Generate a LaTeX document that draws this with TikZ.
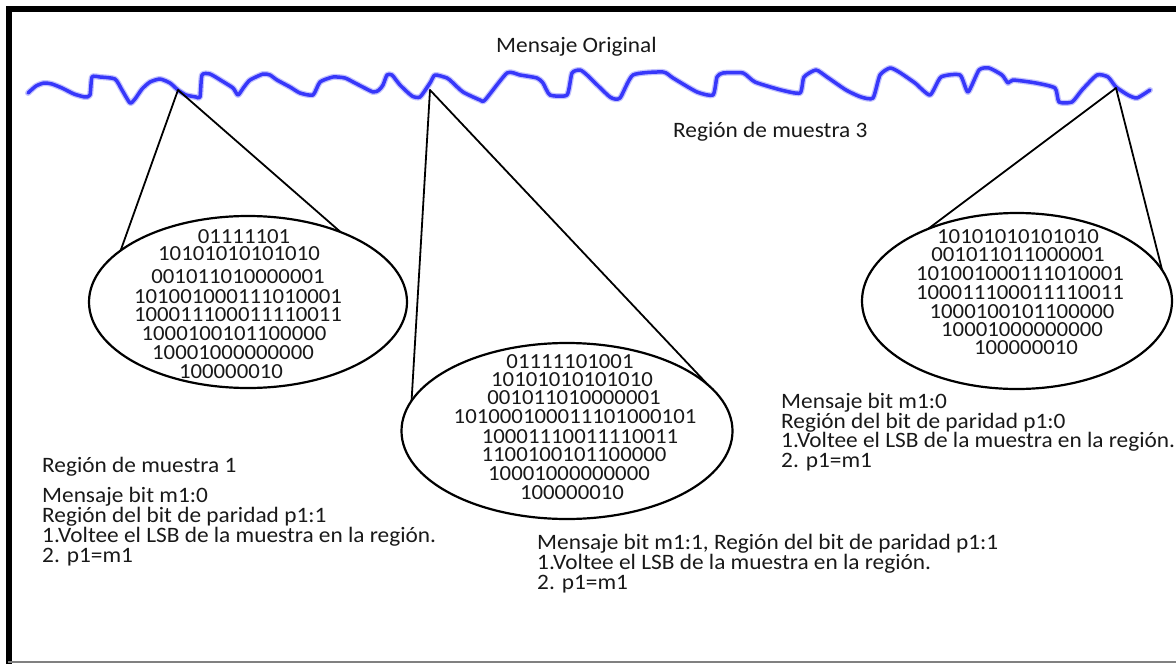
\documentclass[tikz,border=0pt]{standalone}
\usepackage{fontspec}
\setmainfont{Carlito}[FakeStretch=1.06]
\usetikzlibrary{shapes.geometric}
\definecolor{wavecol}{RGB}{55,55,250}
\definecolor{inkcol}{RGB}{25,25,25}
\newcommand\txtfont{\fontsize{22}{20}\selectfont}
\newcommand\bitfont{\fontsize{21.5}{19}\selectfont}
\begin{document}
\begin{tikzpicture}[x=1pt,y=-1pt,
  lbl/.style={anchor=base west, inner sep=0pt, font=\txtfont, text=inkcol},
  bits/.style={anchor=center, inner sep=0pt, font=\bitfont, text=inkcol},
  bubble/.style={draw, ellipse, line width=2.2pt, inner sep=0pt, outer sep=0pt},
  callout/.style={line width=1.8pt, line cap=round},
  wavehalo/.style={line width=6pt, color=wavecol!30, line join=round, line cap=round},
  wavecore/.style={line width=3.5pt, color=wavecol, line join=round, line cap=round}]
\useasboundingbox (0,0) rectangle (1176,664);
\fill[white] (0,0) rectangle (1176,664);
% frame
\draw[line width=6pt, line join=miter] (8.5,664) -- (8.5,8.5) -- (1176,8.5);
\draw[gray, line width=1.5pt] (8,662) -- (1176,662);
% wave
\def\wavepts{(28,93) (36,86) (44,83) (52,84) (62,88) (74,94) (85,97) (90,95) (92,77) (100,77) (115,79) (122,90) (130,103) (135,99) (142,89) (150,82) (160,79) (170,83) (178,90) (186,95) (196,97) (200,97) (202,75) (210,74) (222,81) (233,88) (238,95) (244,87) (250,80) (263,74) (270,75) (277,80) (290,87) (300,93) (313,95) (320,82) (333,77) (345,78) (355,83) (373,92) (379,90) (383,85) (387,75) (392,75) (400,85) (412,96) (420,97) (430,83) (435,75) (447,78) (452,82) (463,92) (480,100) (485,100) (507,73) (520,75) (537,78) (543,83) (550,95) (567,95) (572,73) (580,70) (587,75) (610,97) (620,98) (633,75) (663,72) (673,78) (697,92) (713,95) (717,77) (723,73) (743,73) (755,82) (781,90) (800,93) (804,77) (816,70) (827,77) (846,90) (861,97) (873,98) (880,75) (890,68) (899,72) (915,83) (930,95) (941,77) (960,75) (968,92) (979,70) (989,68) (1002,75) (1008,83) (1013,80) (1036,83) (1055,88) (1059,102) (1072,102) (1082,90) (1097,75) (1108,77) (1116,87) (1128,95) (1137,98) (1150,90)}
\draw[wavehalo] plot[smooth, tension=0.35] coordinates \wavepts;
\draw[wavecore] plot[smooth, tension=0.35] coordinates \wavepts;
% apexes of callouts
\coordinate (apex1) at (178,90);
\coordinate (apex2) at (430,90);
\coordinate (apex3) at (1116,88);
% bubbles
\node[bubble, minimum width=318pt, minimum height=172pt] (e1) at (248,302) {};
\node[bubble, minimum width=331pt, minimum height=176pt] (e2) at (567,431) {};
\node[bubble, minimum width=310pt, minimum height=176pt] (e3) at (1017,301) {};
% callout lines
\draw[callout] (apex1) -- (e1.158.4);
\draw[callout] (apex1) -- (e1.37.8);
\draw[callout] (apex2) -- (e2.169.2);
\draw[callout] (apex2) -- (e2.18.8);
\draw[callout] (apex3) -- (e3.141.6);
\draw[callout] (apex3) -- (e3.12.7);
% bits in left bubble
\node[bits] (l1) at (244,237) {01111101};
\node[bits] (l2) at (239,254) {10101010101010};
\node[bits] (l3) at (238,277) {001011010000001};
\node[bits] (l4) at (238,297) {101001000111010001};
\node[bits] (l5) at (238,315) {100011100011110011};
\node[bits] (l6) at (234,334) {1000100101100000};
\node[bits] (l7) at (233,353) {10001000000000};
\node[bits] (l8) at (231,372) {100000010};
% bits in middle bubble
\node[bits] (m1) at (570,362) {01111101001};
\node[bits] (m2) at (572,380) {10101010101010};
\node[bits] (m3) at (574,398) {001011010000001};
\node[bits] (m4) at (575,417) {101000100011101000101};
\node[bits] (m5) at (580,437) {10001110011110011};
\node[bits] (m6) at (574,455) {1100100101100000};
\node[bits] (m7) at (569,474) {10001000000000};
\node[bits] (m8) at (572,493) {100000010};
% bits in right bubble
\node[bits] (r1) at (1018,237) {10101010101010};
\node[bits] (r2) at (1018,255) {001011011000001};
\node[bits] (r3) at (1020,274) {101001000111010001};
\node[bits] (r4) at (1020,293) {100011100011110011};
\node[bits] (r5) at (1022,312) {1000100101100000};
\node[bits] (r6) at (1022,330) {10001000000000};
\node[bits] (r7) at (1026,348) {100000010};
% labels
\node[lbl] (title) at (496,52) {Mensaje Original};
\node[lbl] (reg3) at (673,137) {Región de muestra 3};
\node[lbl] (reg1) at (42,472) {Región de muestra 1};
\node[lbl] (a1) at (42,502) {Mensaje bit m1:0};
\node[lbl] (a2) at (42,522) {Región del bit de paridad p1:1};
\node[lbl] (a3) at (42,542) {1.Voltee el LSB de la muestra en la región.};
\node[lbl] (a4) at (42,562) {2. p1=m1};
\node[lbl] (b1) at (537,549) {Mensaje bit m1:1, Región del bit de paridad p1:1};
\node[lbl] (b2) at (537,569) {1.Voltee el LSB de la muestra en la región.};
\node[lbl] (b3) at (537,589) {2. p1=m1};
\node[lbl] (c1) at (781,408) {Mensaje bit m1:0};
\node[lbl] (c2) at (781,428) {Región del bit de paridad p1:0};
\node[lbl] (c3) at (781,447) {1.Voltee el LSB de la muestra en la región.};
\node[lbl] (c4) at (781,467) {2. p1=m1};
\end{tikzpicture}
\end{document}
